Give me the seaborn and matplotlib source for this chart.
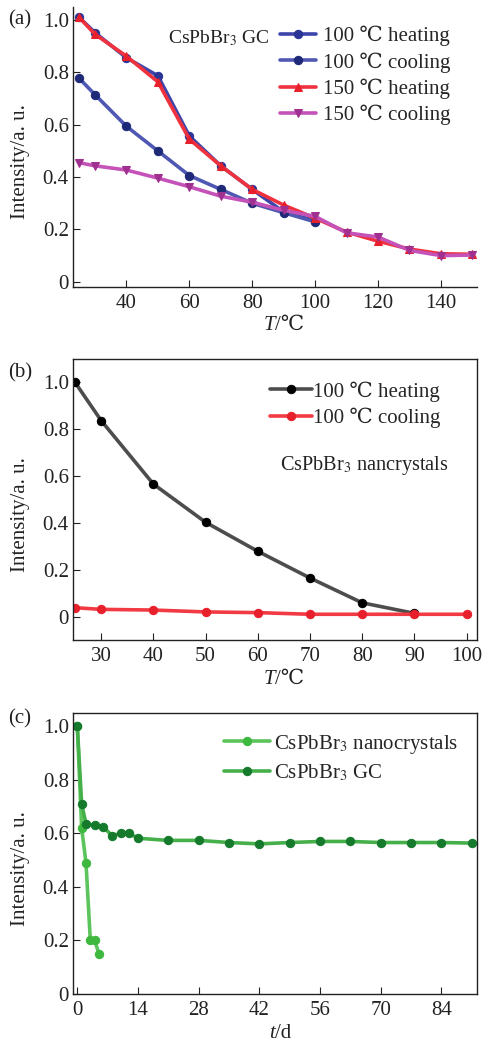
import numpy as np
import pandas as pd
import matplotlib
matplotlib.use("Agg")
import matplotlib.pyplot as plt
import seaborn as sns
from matplotlib.ticker import FuncFormatter

sns.set_style("ticks")
plt.rcParams['font.family'] = ['Liberation Serif', 'DejaVu Serif', 'DejaVu Sans']
plt.rcParams['mathtext.fontset'] = 'stix'

# (a) CsPbBr3 GC, heating / cooling cycles
temp_100 = [25, 30, 40, 50, 60, 70, 80, 90, 100]
temp_150 = [25, 30, 40, 50, 60, 70, 80, 90, 100, 110, 120, 130, 140, 150]
heat_100 = [1.01, 0.952, 0.856, 0.787, 0.557, 0.443, 0.353, 0.267, 0.233]
cool_100 = [0.777, 0.715, 0.594, 0.50, 0.406, 0.353, 0.30, 0.264, 0.229]
heat_150 = [1.01, 0.946, 0.862, 0.764, 0.545, 0.443, 0.353, 0.293, 0.243,
            0.19, 0.155, 0.125, 0.107, 0.105]
cool_150 = [0.455, 0.443, 0.427, 0.396, 0.363, 0.327, 0.304, 0.273, 0.25,
            0.187, 0.171, 0.12, 0.10, 0.102]

# (b) CsPbBr3 nanocrystals
temp_b = [25, 30, 40, 50, 60, 70, 80, 90]
temp_b_cool = [25, 30, 40, 50, 60, 70, 80, 90, 100]
heat_b = [1.0, 0.837, 0.566, 0.403, 0.279, 0.165, 0.059, 0.014]
cool_b = [0.038, 0.031, 0.028, 0.02, 0.017, 0.01, 0.01, 0.01, 0.01]

# (c) stability over time
days_nc = [0, 1, 2, 3, 4, 5]
int_nc = [1.0, 0.62, 0.49, 0.20, 0.20, 0.15]
days_gc = [0, 1, 2, 4, 6, 8, 10, 12, 14, 21, 28, 35, 42, 49, 56, 63, 70, 77, 84, 91]
int_gc = [1.0, 0.71, 0.636, 0.63, 0.624, 0.592, 0.60, 0.60, 0.582, 0.574, 0.574,
          0.566, 0.561, 0.566, 0.57, 0.57, 0.566, 0.566, 0.566, 0.564]

FS = 15
TXT = '#222222'
fig = plt.figure(figsize=(4.85, 10.47), dpi=100)
L, W = 0.1505, 0.833
ax_a = fig.add_axes([L, 0.7259, W, 0.2674])
ax_b = fig.add_axes([L, 0.3887, W, 0.2684])
ax_c = fig.add_axes([L, 0.0506, W, 0.2684])

def style(ax, xsym, unit):
    ax.tick_params(axis='both', direction='in', length=5, labelsize=FS, width=0.8,
                   colors=TXT)
    ax.tick_params(axis='x', pad=5)
    ax.tick_params(axis='y', pad=3)
    ax.yaxis.set_major_formatter(FuncFormatter(lambda v, p: '0' if abs(v) < 1e-9 else f'{v:.1f}'))
    ax.set_yticks([0, 0.2, 0.4, 0.6, 0.8, 1.0])
    ax.set_ylabel('Intensity/a. u.', fontsize=FS, color=TXT)
    ax.yaxis.set_label_coords(-0.106, 0.447)
    # x label: italic symbol + upright unit
    ax.text(0.5, -0.105, xsym, transform=ax.transAxes, fontsize=FS, style='italic',
            ha='right', va='top', color=TXT)
    ax.text(0.5, -0.105, unit, transform=ax.transAxes, fontsize=FS,
            ha='left', va='top', color=TXT)
    for s in ax.spines.values():
        s.set_linewidth(1.0)
        s.set_color(TXT)

lw, ms = 2.6, 6

def line(ax, x, y, lc, mc, marker, label):
    sns.lineplot(x=x, y=y, ax=ax, color=lc, lw=lw, marker=marker, markersize=ms,
                 markerfacecolor=mc, markeredgecolor=mc, label=label, sort=False)

# panel a
line(ax_a, temp_100, heat_100, '#3d45aa', '#2a3596', 'o', '100 ℃ heating')
line(ax_a, temp_100, cool_100, '#4f58b2', '#1e2a78', 'o', '100 ℃ cooling')
line(ax_a, temp_150, heat_150, '#f0323f', '#e8202c', '^', '150 ℃ heating')
line(ax_a, temp_150, cool_150, '#c452b8', '#a03090', 'v', '150 ℃ cooling')
ax_a.set_xlim(23, 151.5)
ax_a.set_ylim(-0.02, 1.05)
ax_a.set_xticks([40, 60, 80, 100, 120, 140])
style(ax_a, 'T', '/℃')
ax_a.spines['top'].set_visible(False)
ax_a.spines['right'].set_visible(False)
ax_a.text(0.235, 0.89, r'CsPbBr$_3$ GC', transform=ax_a.transAxes, fontsize=14,
          va='center', ha='left', color=TXT)
ax_a.legend(loc='upper right', bbox_to_anchor=(0.965, 0.977), frameon=False, fontsize=FS,
            handlelength=1.7, handletextpad=0.35, labelspacing=0.28, borderaxespad=0.2)

# panel b
line(ax_b, temp_b, heat_b, '#4d4d4d', '#000000', 'o', '100 ℃ heating')
line(ax_b, temp_b_cool, cool_b, '#f23a45', '#e8202c', 'o', '100 ℃ cooling')
ax_b.set_xlim(24.6, 102)
ax_b.set_ylim(-0.1, 1.1)
ax_b.set_xticks([30, 40, 50, 60, 70, 80, 90, 100])
style(ax_b, 'T', '/℃')
ax_b.text(0.512, 0.62, r'CsPbBr$_3$ nancrystals', transform=ax_b.transAxes, fontsize=14.6,
          va='center', ha='left', color=TXT)
ax_b.legend(loc='upper right', bbox_to_anchor=(0.94, 0.965), frameon=False, fontsize=FS,
            handlelength=2.0, handletextpad=0.05, labelspacing=0.28, borderaxespad=0.2)

# panel c
line(ax_c, days_nc, int_nc, '#5cc45c', '#3fb83f', 'o', r'CsPbBr$_3$ nanocrystals')
line(ax_c, days_gc, int_gc, '#45b04a', '#167a2c', 'o', r'CsPbBr$_3$ GC')
ax_c.set_xlim(-1, 92.2)
ax_c.set_ylim(0, 1.05)
ax_c.set_xticks([0, 14, 28, 42, 56, 70, 84])
style(ax_c, 't', '/d')
ax_c.legend(loc='upper right', bbox_to_anchor=(0.985, 0.975), frameon=False, fontsize=FS,
            handlelength=2.2, handletextpad=0.2, labelspacing=0.33, borderaxespad=0.2)

for lab, y in [('(a)', 0.981), ('(b)', 0.644), ('(c)', 0.313)]:
    fig.text(0.016, y, lab, fontsize=FS, va='center', ha='left', color=TXT)

fig.savefig('out.png', dpi=100)
